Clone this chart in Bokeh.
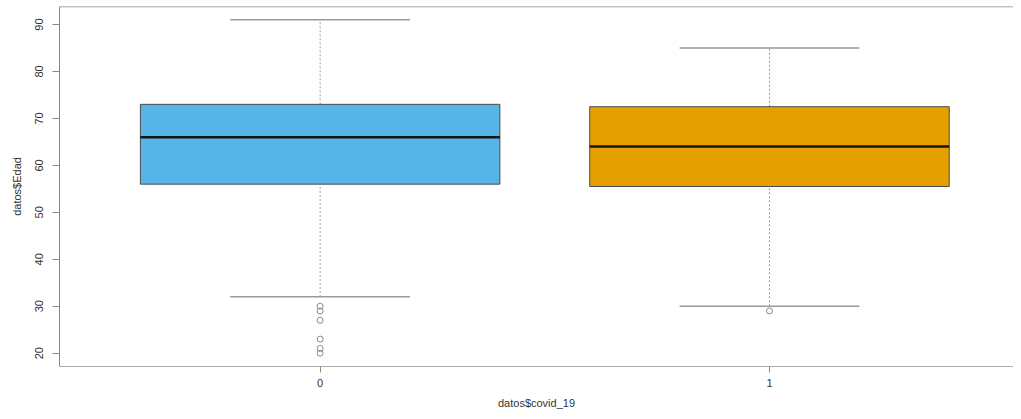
from bokeh.plotting import figure
from bokeh.models import FixedTicker, Range1d, Span, ColumnDataSource
from bokeh.embed import file_html
from bokeh.resources import INLINE

# --- data ---
categories = ["0", "1"]
q1 = [56, 55.5]
median = [66, 64]
q3 = [73, 72.5]
whisker_low = [32, 30]
whisker_high = [91, 85]
outliers_0 = [30, 29, 27, 23, 21, 20]
outliers_1 = [29]
fill_colors = ["#56B4E9", "#E69F00"]
y_ticks = [20, 30, 40, 50, 60, 70, 80, 90]

pos = [i + 1 for i in range(len(categories))]
box_w = 0.8
staple_half = 0.2

src = ColumnDataSource(dict(
    x=pos, q1=q1, med=median, q3=q3, lo=whisker_low, hi=whisker_high,
    color=fill_colors,
    x0=[x - box_w / 2 for x in pos], x1=[x + box_w / 2 for x in pos],
    s0=[x - staple_half for x in pos], s1=[x + staple_half for x in pos],
))
out_x = [pos[0]] * len(outliers_0) + [pos[1]] * len(outliers_1)
out_y = outliers_0 + outliers_1

FONT = "Liberation Sans"
Y_TOP = 93.84

p = figure(width=1013, height=411, output_backend="svg", toolbar_location=None,
           x_range=Range1d(0.42, 2.543), y_range=Range1d(17.16, Y_TOP),
           min_border_left=59, min_border_right=0, min_border_top=6, min_border_bottom=44)
p.outline_line_color = None
p.grid.grid_line_color = None
p.background_fill_color = "white"

# whiskers
p.segment(x0="x", y0="q3", x1="x", y1="hi", source=src, line_color="#9a9a9a",
          line_dash="2 2", line_width=1)
p.segment(x0="x", y0="lo", x1="x", y1="q1", source=src, line_color="#9a9a9a",
          line_dash="2 2", line_width=1)
# staples
p.segment(x0="s0", y0="hi", x1="s1", y1="hi", source=src, line_color="#999999", line_width=1.5)
p.segment(x0="s0", y0="lo", x1="s1", y1="lo", source=src, line_color="#999999", line_width=1.5)
# boxes
p.vbar(x="x", width=box_w, bottom="q1", top="q3", source=src, fill_color="color",
       line_color="#4a4a4a", line_width=1)
# medians
p.segment(x0="x0", y0="med", x1="x1", y1="med", source=src, line_color="#151515", line_width=2.5)
# outliers
p.scatter(out_x, out_y, marker="circle", size=6, fill_color=None, line_color="#8a8a8a",
          line_width=1)

# top frame line
p.add_layout(Span(location=Y_TOP, dimension="width", line_color="#888888", line_width=1.5))

# axes
xa = p.xaxis[0]
xa.ticker = FixedTicker(ticks=pos)
xa.major_label_overrides = {pos[i]: categories[i] for i in range(len(pos))}
xa.axis_label = "datos$covid_19"
xa.axis_line_color = "#aaaaaa"
xa.major_tick_line_color = "#888888"
xa.major_tick_out = 6
xa.major_tick_in = 0
xa.minor_tick_line_color = None
xa.major_label_standoff = 6
xa.axis_label_standoff = 7

ya = p.yaxis[0]
ya.ticker = FixedTicker(ticks=y_ticks)
ya.axis_label = "datos$Edad"
ya.axis_line_color = "#888888"
ya.major_tick_line_color = "#888888"
ya.major_tick_out = 7
ya.major_tick_in = 0
ya.minor_tick_line_color = None
ya.major_label_orientation = "vertical"
ya.major_label_standoff = 9
ya.axis_label_standoff = 10

for ax in (xa, ya):
    ax.major_label_text_font = FONT
    ax.major_label_text_font_size = "11px"
    ax.major_label_text_color = "#333333"
    ax.axis_label_text_font = FONT
    ax.axis_label_text_font_size = "11px"
    ax.axis_label_text_font_style = "normal"
    ax.axis_label_text_color = "#333333"

open("out.html", "w").write(file_html(p, INLINE))
